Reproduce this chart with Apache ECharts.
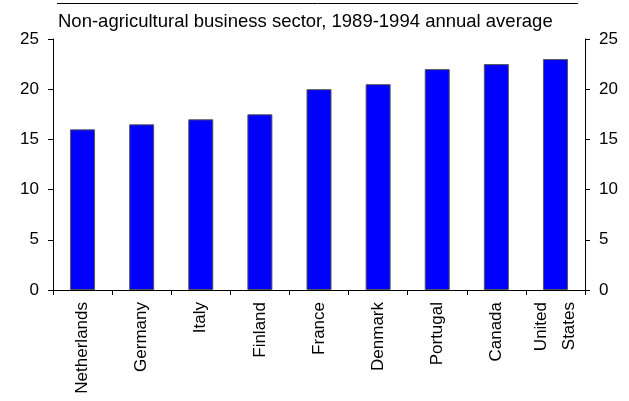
<!DOCTYPE html>
<html>
<head>
<meta charset="utf-8">
<script src="https://cdn.jsdelivr.net/npm/echarts@6/dist/echarts.min.js"></script>
<style>html,body{margin:0;padding:0;background:#fff}#c{width:629px;height:401px}</style>
</head>
<body>
<div id="c"></div>
<script>
const categories = ['Netherlands', 'Germany', 'Italy', 'Finland', 'France', 'Denmark', 'Portugal', 'Canada', 'United\nStates'];
const values = [16, 16.5, 17, 17.5, 20, 20.5, 22, 22.5, 23];
const titleText = 'Non-agricultural business sector, 1989-1994 annual average';

const chart = echarts.init(document.getElementById('c'), null, {renderer: 'canvas'});
const font = 'Liberation Sans, Arial, sans-serif';
const yAxisCommon = {
  type: 'value', min: 0, max: 25, interval: 5,
  axisLine: {show: true, lineStyle: {color: '#000', width: 1}},
  axisTick: {show: true, length: 5, lineStyle: {color: '#000'}},
  splitLine: {show: false},
  axisLabel: {color: '#000', fontSize: 17, fontFamily: font, margin: 14}
};
chart.setOption({
  animation: false,
  backgroundColor: '#fff',
  title: {
    text: titleText, left: 53, top: 7,
    textStyle: {fontSize: 18.5, fontWeight: 'normal', color: '#000', fontFamily: font}
  },
  graphic: [{
    type: 'line', shape: {x1: 57, y1: 3.5, x2: 578, y2: 3.5},
    style: {stroke: '#000', lineWidth: 1}
  }],
  grid: {left: 53, right: 44, top: 39, bottom: 111, containLabel: false},
  xAxis: {
    type: 'category', data: categories,
    axisLine: {lineStyle: {color: '#000'}},
    axisTick: {show: true, length: 5, alignWithLabel: false, lineStyle: {color: '#000'}},
    axisLabel: {rotate: 90, color: '#000', fontSize: 17, fontFamily: font, margin: 12, interval: 0, lineHeight: 28}
  },
  yAxis: [
    Object.assign({}, yAxisCommon, {position: 'left'}),
    Object.assign({}, yAxisCommon, {position: 'right'})
  ],
  series: [{
    type: 'bar', data: values, barWidth: 25,
    itemStyle: {color: '#0000FF', borderColor: '#555', borderWidth: 1}
  }]
});
</script>
</body>
</html>
